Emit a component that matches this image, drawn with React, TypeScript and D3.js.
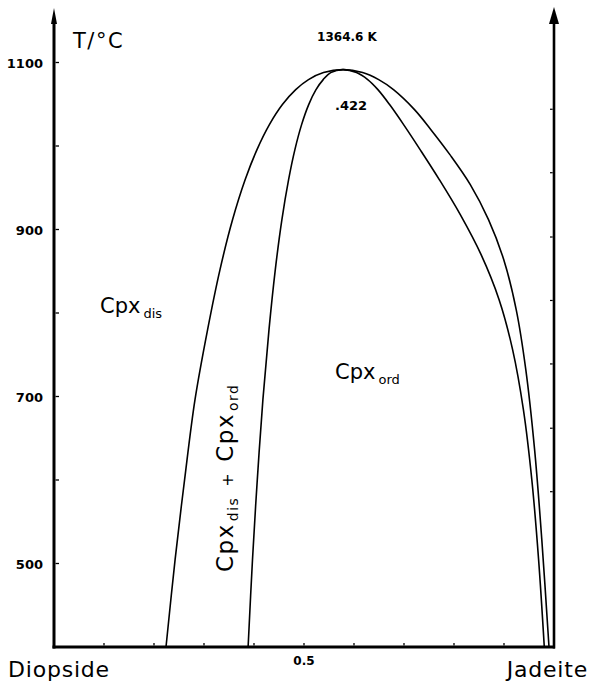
import React, { useRef, useEffect } from 'react';
import * as d3 from 'd3';

// composition X(Jadeite) vs temperature in °C
const outerX = [0.224, 0.2422, 0.2612, 0.282, 0.3072, 0.332, 0.3572, 0.3824, 0.406, 0.4308, 0.4568, 0.4834, 0.509, 0.539, 0.578, 0.6172, 0.6494, 0.679, 0.721, 0.7538, 0.7918, 0.8326, 0.869, 0.8994, 0.9244, 0.9436, 0.9612, 0.9756, 0.99];
const outerT = [400, 504.7, 600.5, 696.3, 780.1, 852, 911.9, 959.8, 995.7, 1025.6, 1049.6, 1067.5, 1079.5, 1087.9, 1091.5, 1087.9, 1079.5, 1067.5, 1043.6, 1019.6, 989.7, 953.8, 911.9, 864, 804.1, 732.2, 636.4, 528.6, 400];

const innerX = [0.3882, 0.397, 0.4066, 0.4178, 0.43, 0.4426, 0.4558, 0.4692, 0.4818, 0.4952, 0.5094, 0.524, 0.5384, 0.5534, 0.578, 0.605, 0.6274, 0.6478, 0.6712, 0.6992, 0.7322, 0.7706, 0.8126, 0.8542, 0.8902, 0.9172, 0.9388, 0.9556, 0.9692, 0.9806];
const innerT = [400, 504.7, 600.5, 696.3, 780.1, 852, 911.9, 959.8, 995.7, 1025.6, 1049.6, 1067.5, 1079.5, 1087.9, 1091.5, 1087.9, 1079.5, 1067.5, 1049.6, 1025.6, 995.7, 959.8, 917.8, 869.9, 816, 756.2, 684.3, 600.5, 504.7, 400];

const tempTicks = [500, 600, 700, 800, 900, 1000, 1100];
const tempLabels = [500, 700, 900, 1100];
const compTicks = [0.1, 0.2, 0.3, 0.4, 0.5, 0.6, 0.7, 0.8, 0.9];
const rightTicks = [586, 662, 739, 815, 891, 968, 1044];

const FONT = 'DejaVu Sans, sans-serif';

const App = () => {
  const svgRef = useRef(null);

  useEffect(() => {
    const svg = d3.select(svgRef.current);
    svg.selectAll('*').remove();

    const x = d3.scaleLinear().domain([0, 1]).range([54, 554]);
    const y = d3.scaleLinear().domain([400, 1100]).range([647, 62.5]);
    const topY = 8;

    const line = d3
      .line<[number, number]>()
      .x(d => x(d[0]))
      .y(d => y(d[1]))
      .curve(d3.curveCatmullRom.alpha(0.5));

    const outer = outerX.map((v, i) => [v, outerT[i]] as [number, number]);
    const inner = innerX.map((v, i) => [v, innerT[i]] as [number, number]);

    [outer, inner].forEach(pts => {
      svg.append('path')
        .attr('d', line(pts))
        .attr('fill', 'none')
        .attr('stroke', '#000')
        .attr('stroke-width', 1.6);
    });

    // axes
    svg.append('line')
      .attr('x1', x(0)).attr('x2', x(0))
      .attr('y1', y(400) + 1.5).attr('y2', topY + 12)
      .attr('stroke', '#000').attr('stroke-width', 3);
    svg.append('path')
      .attr('d', `M${x(0)},${topY} L${x(0) - 3},${topY + 16} L${x(0) + 3},${topY + 16} Z`)
      .attr('fill', '#000');

    svg.append('line')
      .attr('x1', x(1)).attr('x2', x(1))
      .attr('y1', y(400) + 1.5).attr('y2', topY + 12)
      .attr('stroke', '#000').attr('stroke-width', 2.6);
    svg.append('path')
      .attr('d', `M${x(1)},${topY - 1} L${x(1) - 5},${topY + 16} L${x(1) + 5},${topY + 16} Z`)
      .attr('fill', '#000');

    svg.append('line')
      .attr('x1', x(0) - 1.5).attr('x2', x(1) + 1)
      .attr('y1', y(400)).attr('y2', y(400))
      .attr('stroke', '#000').attr('stroke-width', 3);

    // ticks
    svg.selectAll('.tt').data(tempTicks).enter().append('line')
      .attr('x1', x(0) + 1.5).attr('x2', x(0) + 5)
      .attr('y1', d => y(d)).attr('y2', d => y(d))
      .attr('stroke', '#000').attr('stroke-width', 1.3);

    svg.selectAll('.rt').data(rightTicks).enter().append('line')
      .attr('x1', x(1) - 1.3).attr('x2', x(1) - 4)
      .attr('y1', d => y(d)).attr('y2', d => y(d))
      .attr('stroke', '#000').attr('stroke-width', 1.2);

    svg.selectAll('.ct').data(compTicks).enter().append('line')
      .attr('x1', d => x(d)).attr('x2', d => x(d))
      .attr('y1', y(400) - 1.5).attr('y2', y(400) - 4)
      .attr('stroke', '#000').attr('stroke-width', 1.3);

    svg.selectAll('.tl').data(tempLabels).enter().append('text')
      .attr('x', 43).attr('y', d => y(d) + 5)
      .attr('text-anchor', 'end')
      .attr('font-family', FONT).attr('font-size', 13).attr('font-weight', 'bold')
      .text(d => d);

    svg.append('text')
      .attr('x', x(0.5)).attr('y', 665)
      .attr('text-anchor', 'middle')
      .attr('font-family', FONT).attr('font-size', 12).attr('font-weight', 'bold')
      .text('0.5');

    svg.append('text')
      .attr('x', 8).attr('y', 677)
      .attr('font-family', FONT).attr('font-size', 22).attr('letter-spacing', 0.8)
      .text('Diopside');
    svg.append('text')
      .attr('x', 588).attr('y', 677)
      .attr('text-anchor', 'end')
      .attr('font-family', FONT).attr('font-size', 22).attr('letter-spacing', 0.8)
      .text('Jadeite');

    svg.append('text')
      .attr('x', 73).attr('y', 48)
      .attr('font-family', FONT).attr('font-size', 21).attr('letter-spacing', 1.5)
      .text('T/°C');

    svg.append('text')
      .attr('x', 347).attr('y', 41)
      .attr('text-anchor', 'middle')
      .attr('font-family', FONT).attr('font-size', 12).attr('font-weight', 'bold')
      .text('1364.6 K');

    svg.append('text')
      .attr('x', 335).attr('y', 110)
      .attr('font-family', FONT).attr('font-size', 13).attr('font-weight', 'bold')
      .text('.422');

    const sub = (g, base, subText) => {
      g.append('tspan').text(base);
      g.append('tspan').attr('font-size', 13).attr('dy', 5).attr('dx', 3).text(subText);
    };

    const dis = svg.append('text')
      .attr('x', 100).attr('y', 313)
      .attr('font-family', FONT).attr('font-size', 21);
    sub(dis, 'Cpx', 'dis');

    const ord = svg.append('text')
      .attr('x', 335).attr('y', 379)
      .attr('font-family', FONT).attr('font-size', 21);
    sub(ord, 'Cpx', 'ord');

    const rot = svg.append('text')
      .attr('transform', 'translate(233,572) rotate(-90)')
      .attr('font-family', FONT).attr('font-size', 23).attr('letter-spacing', 1.5);
    rot.append('tspan').text('Cpx');
    rot.append('tspan').attr('font-size', 14).attr('dy', 5).attr('dx', 2).text('dis');
    rot.append('tspan').attr('dy', -5).attr('dx', 10).attr('font-size', 16).text('+');
    rot.append('tspan').attr('dx', 10).text('Cpx');
    rot.append('tspan').attr('font-size', 14).attr('dy', 5).attr('dx', 2).text('ord');
  }, []);

  return (
    <svg
      ref={svgRef}
      width={591}
      height={684}
      style={{ position: 'absolute', left: 0, top: 0, background: '#fff' }}
    />
  );
};

export default App;
